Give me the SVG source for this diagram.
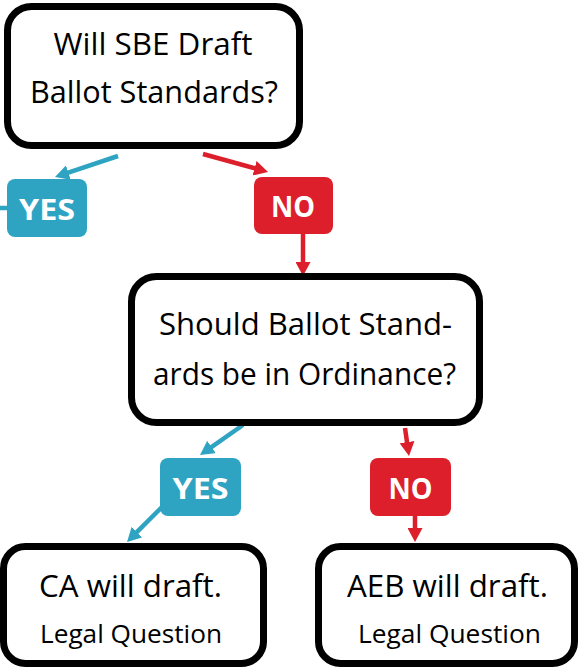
<svg xmlns="http://www.w3.org/2000/svg" width="579" height="670" viewBox="0 0 579 670">
<style>
.box{fill:#fff;stroke:#000;stroke-width:7}
.t{font-family:"Open Sans","Liberation Sans",sans-serif;font-size:31px;fill:#000;text-anchor:middle}
.s{font-family:"Open Sans","Liberation Sans",sans-serif;font-size:25px;fill:#000;text-anchor:middle}
.lab{font-family:"Open Sans","Liberation Sans",sans-serif;font-size:28px;font-weight:bold;fill:#fff;text-anchor:middle}
.yes{fill:#2fa4c2}
.no{fill:#dc1f2b}
.cb{stroke:#2fa4c2;stroke-width:4.5;fill:none}
.cr{stroke:#dc1f2b;stroke-width:4.5;fill:none}
</style>
<defs>
<marker id="ab" markerUnits="userSpaceOnUse" markerWidth="14" markerHeight="15" refX="4" refY="7.5" orient="auto" viewBox="0 0 14 15"><path d="M0,0 L14,7.5 L0,15 z" fill="#2fa4c2"/></marker>
<marker id="ar" markerUnits="userSpaceOnUse" markerWidth="14" markerHeight="15" refX="4" refY="7.5" orient="auto" viewBox="0 0 14 15"><path d="M0,0 L14,7.5 L0,15 z" fill="#dc1f2b"/></marker>
</defs>
<g id="connectors">
<line class="cb" x1="0" y1="208" x2="8" y2="208"/>
<line class="cb" x1="118" y1="156" x2="64.5" y2="173.8" marker-end="url(#ab)"/>
<line class="cr" x1="203" y1="154" x2="258.4" y2="169.3" marker-end="url(#ar)"/>
<line class="cr" x1="303" y1="234" x2="303" y2="266" marker-end="url(#ar)"/>
<line class="cb" x1="243" y1="425" x2="208.2" y2="449.3" marker-end="url(#ab)"/>
<line class="cr" x1="405" y1="428" x2="407.6" y2="446.1" marker-end="url(#ar)"/>
<line class="cb" x1="162" y1="507" x2="134.1" y2="534.9" marker-end="url(#ab)"/>
<line class="cr" x1="415" y1="516" x2="415" y2="532" marker-end="url(#ar)"/>
</g>
<g id="q1">
<rect class="box" x="7.5" y="6.5" width="292" height="139" rx="24"/>
<text class="t" x="153" y="55" textLength="199" lengthAdjust="spacingAndGlyphs">Will SBE Draft</text>
<text class="t" x="154" y="103" textLength="248" lengthAdjust="spacingAndGlyphs">Ballot Standards?</text>
</g>
<g id="yes1">
<rect class="yes" x="7" y="179" width="80" height="58" rx="8"/>
<text class="lab" x="47" y="220" textLength="56" lengthAdjust="spacingAndGlyphs">YES</text>
</g>
<g id="no1">
<rect class="no" x="254" y="177" width="79" height="57" rx="8"/>
<text class="lab" x="293" y="217" textLength="44" lengthAdjust="spacingAndGlyphs">NO</text>
</g>
<g id="q2">
<rect class="box" x="131.5" y="276.5" width="348" height="146" rx="25"/>
<text class="t" x="305.5" y="335" textLength="293" lengthAdjust="spacingAndGlyphs">Should Ballot Stand-</text>
<text class="t" x="304.5" y="385" textLength="303" lengthAdjust="spacingAndGlyphs">ards be in Ordinance?</text>
</g>
<g id="yes2">
<rect class="yes" x="160" y="458" width="81" height="58" rx="8"/>
<text class="lab" x="200.5" y="499" textLength="56" lengthAdjust="spacingAndGlyphs">YES</text>
</g>
<g id="no2">
<rect class="no" x="370" y="458" width="81" height="58" rx="8"/>
<text class="lab" x="410.5" y="499" textLength="44" lengthAdjust="spacingAndGlyphs">NO</text>
</g>
<g id="ca">
<rect class="box" x="3.5" y="546.5" width="260" height="117" rx="22"/>
<text class="t" x="130.5" y="597" textLength="183" lengthAdjust="spacingAndGlyphs">CA will draft.</text>
<text class="s" x="131" y="643" textLength="182" lengthAdjust="spacingAndGlyphs">Legal Question</text>
</g>
<g id="aeb">
<rect class="box" x="318.5" y="546.5" width="256" height="117" rx="22"/>
<text class="t" x="447.5" y="597" textLength="201" lengthAdjust="spacingAndGlyphs">AEB will draft.</text>
<text class="s" x="449.5" y="643" textLength="183" lengthAdjust="spacingAndGlyphs">Legal Question</text>
</g>
</svg>
